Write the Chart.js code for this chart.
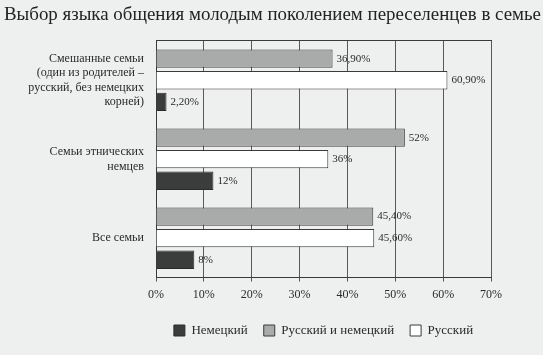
<!DOCTYPE html>
<html>
<head>
<meta charset="utf-8">
<script src="https://cdn.jsdelivr.net/npm/chart.js@4"></script>
<style>
  html, body { margin: 0; padding: 0; background: #eef0ef; }
  #wrap { width: 543px; height: 355px; }
</style>
</head>
<body>
<div id="wrap"><canvas id="barChart" width="543" height="355"></canvas></div>
<script>
// categories (top to bottom)
var categories = [
    ['Смешанные семьи', '(один из родителей –', 'русский, без немецких', 'корней)'],
    ['Семьи этнических', 'немцев'],
    'Все семьи'
];

// series values, %
var mixedLang = [36.9, 52, 45.4];   // Русский и немецкий
var russian = [60.9, 36, 45.6];     // Русский
var german = [2.2, 12, 8];          // Немецкий

// value labels as printed
var mixedLabels = ['36,90%', '52%', '45,40%'];
var russianLabels = ['60,90%', '36%', '45,60%'];
var germanLabels = ['2,20%', '12%', '8%'];

var xTicks = [0, 10, 20, 30, 40, 50, 60, 70];

document.addEventListener("DOMContentLoaded", function() {
    var serif = '"Liberation Serif", "DejaVu Serif", serif';
    var valueLabels = [mixedLabels, russianLabels, germanLabels];
    var legendRank = [1, 2, 0];

    // prints the value next to the end of each bar
    var barValues = {
        id: 'barValues',
        afterDatasetsDraw: function(chart) {
            var ctx = chart.ctx;
            ctx.save();
            ctx.font = '11px ' + serif;
            ctx.fillStyle = '#2a2a2a';
            ctx.textBaseline = 'middle';
            chart.data.datasets.forEach(function(ds, i) {
                var meta = chart.getDatasetMeta(i);
                meta.data.forEach(function(bar, j) {
                    ctx.fillText(valueLabels[i][j], bar.x + 4, bar.y);
                });
            });
            ctx.restore();
        }
    };

    var ctx = document.getElementById('barChart').getContext('2d');
    new Chart(ctx, {
        type: 'bar',
        data: {
            labels: categories,
            datasets: [{
                label: 'Русский и немецкий',
                data: mixedLang,
                backgroundColor: '#a9abaa',
                borderColor: '#3a3a3a',
                borderWidth: 1
            }, {
                label: 'Русский',
                data: russian,
                backgroundColor: '#ffffff',
                borderColor: '#3a3a3a',
                borderWidth: 1
            }, {
                label: 'Немецкий',
                data: german,
                backgroundColor: '#3b3d3c',
                borderColor: '#2a2a2a',
                borderWidth: 1
            }]
        },
        plugins: [barValues],
        options: {
            indexAxis: 'y',
            responsive: false,
            animation: false,
            categoryPercentage: 0.82,
            barPercentage: 0.85,
            layout: { padding: { top: 0, right: 2, bottom: 8, left: 4 } },
            scales: {
                x: {
                    min: 0,
                    max: 70,
                    position: 'bottom',
                    afterBuildTicks: function(axis) {
                        axis.ticks = xTicks.map(function(v) { return { value: v }; });
                    },
                    ticks: {
                        callback: function(v) { return v + '%'; },
                        color: '#2a2a2a',
                        font: { family: serif, size: 12 },
                        padding: 6
                    },
                    grid: { color: '#5a5a5a', lineWidth: 1, drawTicks: true, tickLength: 4 },
                    border: { color: '#3a3a3a' }
                },
                y: {
                    afterFit: function(axis) { axis.width = 152; },
                    ticks: {
                        color: '#2a2a2a',
                        font: { family: serif, size: 12 },
                        padding: 4
                    },
                    grid: { display: false },
                    border: { color: '#3a3a3a' }
                },
                // empty right-hand axis, only reserves space for the labels
                yRight: {
                    type: 'linear',
                    position: 'right',
                    ticks: { display: false },
                    grid: { display: false },
                    border: { display: false },
                    afterFit: function(axis) { axis.width = 50; }
                },
                top: {
                    position: 'top',
                    axis: 'x',
                    min: 0,
                    max: 70,
                    ticks: { display: false },
                    grid: { display: false },
                    border: { color: '#3a3a3a' }
                }
            },
            plugins: {
                title: {
                    display: true,
                    text: 'Выбор языка общения молодым поколением переселенцев в семье',
                    align: 'start',
                    color: '#222',
                    font: { family: serif, size: 19, weight: 'normal' },
                    padding: { top: 4, bottom: 6 }
                },
                legend: {
                    position: 'bottom',
                    fullSize: false,
                    labels: {
                        color: '#2a2a2a',
                        font: { family: serif, size: 13 },
                        boxWidth: 11,
                        boxHeight: 11,
                        padding: 16,
                        sort: function(a, b) {
                            return legendRank[a.datasetIndex] - legendRank[b.datasetIndex];
                        }
                    }
                },
                tooltip: { enabled: false }
            }
        }
    });
});
</script>
</body>
</html>
